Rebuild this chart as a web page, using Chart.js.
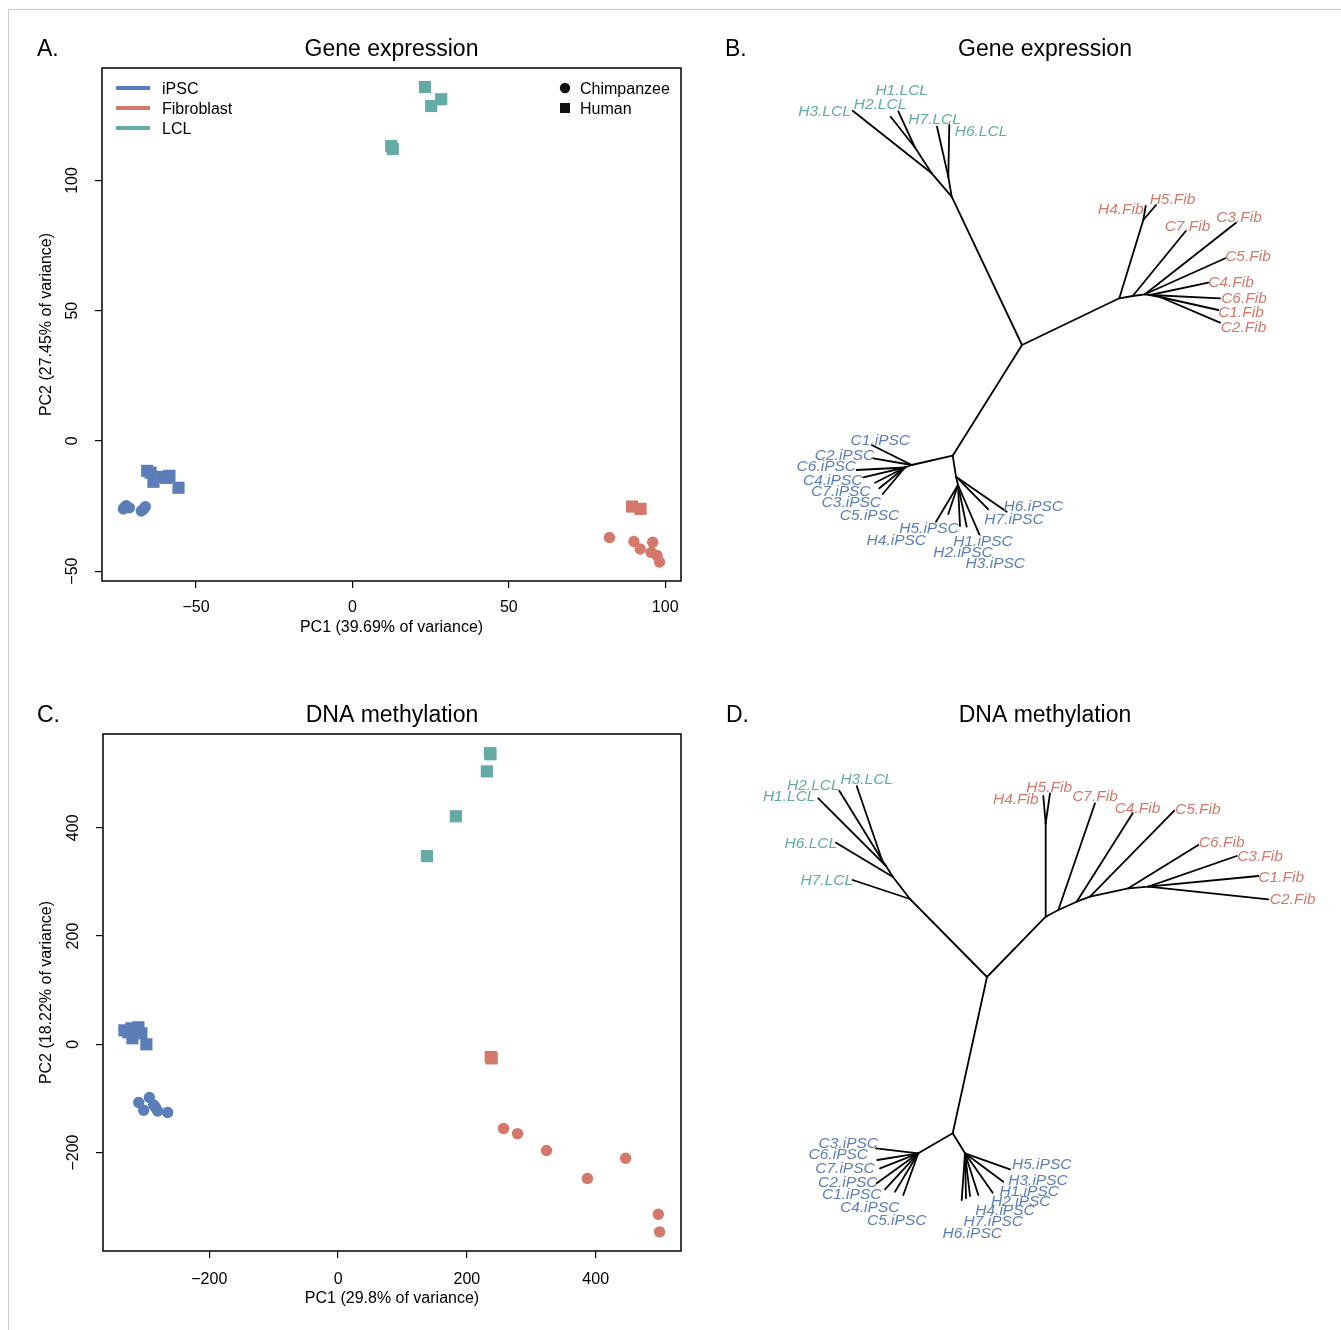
<!DOCTYPE html>
<html>
<head>
<meta charset="utf-8">
<script src="https://cdn.jsdelivr.net/npm/chart.js@4.4.1/dist/chart.umd.min.js"></script>
<style>
html,body{margin:0;padding:0;background:#fff;}
#wrap{position:relative;width:1341px;height:1330px;overflow:hidden;background:#fff;}
#frame{position:absolute;left:8px;top:9px;width:1340px;height:1330px;border-top:1.5px solid #cfcfcf;border-left:1.5px solid #cfcfcf;}
canvas{position:absolute;}
</style>
</head>
<body>
<div id="wrap">
<div id="frame"></div>
<canvas id="cA" width="700" height="665" style="left:0;top:0"></canvas>
<canvas id="cB" width="641" height="665" style="left:700px;top:0"></canvas>
<canvas id="cC" width="700" height="665" style="left:0;top:665px"></canvas>
<canvas id="cD" width="641" height="665" style="left:700px;top:665px"></canvas>
</div>
<script>
// ---------------- DATA ----------------
// Panel A: gene expression PCA  [PC1, PC2]
const geIPSCHuman = [[-65.6,-11.5],[-64.5,-12.2],[-63.6,-15.7],[-60.8,-13.8],[-59.5,-14.2],[-58.5,-13.4],[-55.6,-18.0]];
const geIPSCChimp = [[-73.2,-26.1],[-72.8,-25.5],[-72.3,-24.9],[-71.3,-25.7],[-67.5,-26.9],[-66.8,-26.2],[-66.2,-25.3]];
const geFibHuman  = [[89.4,-25.2],[92.1,-26.1]];
const geFibChimp  = [[82.2,-37.1],[90.0,-38.6],[92.0,-41.5],[96.0,-38.9],[95.5,-42.8],[97.4,-44.0],[98.2,-46.5]];
const geLCLHuman  = [[23.2,135.9],[28.4,131.2],[25.2,128.6],[12.4,113.2],[12.9,112.1]];
const geTicksX = [-50,0,50,100];
const geTicksY = [-50,0,50,100];

// Panel C: DNA methylation PCA [PC1, PC2]
const meIPSCHuman = [[-331.8,25.8],[-325.6,22.2],[-320.9,29.5],[-319.4,11.1],[-310.1,31.4],[-305.4,20.3],[-297.7,0]];
const meIPSCChimp = [[-309.6,-107.6],[-301.9,-121.8],[-293.0,-98.4],[-286.4,-112.1],[-283.7,-116.3],[-280.2,-123.1],[-264.7,-126.1]];
const meFibHuman  = [[237.0,-23.5],[238.5,-26.0]];
const meFibChimp  = [[256.9,-155.6],[278.6,-165.0],[323.6,-196.2],[446.5,-210.6],[387.1,-247.9],[497.2,-314.0],[499.2,-346.5]];
const meLCLHuman  = [[235.7,537.9],[236.7,535.9],[231.0,504.2],[182.9,421.3],[138.0,347.6]];
const meTicksX = [-200,0,200,400];
const meTicksY = [-200,0,200,400];

// Panel B: unrooted tree (gene expression), node layout coordinates
const treeBNodes = {
  R:[0,0],
  L0:[-70.3,148.3], L1:[-73.7,168.3], L2:[-90.3,171.7], L3:[-107,197.5],
  'H3.LCL':[-169.3,234.3], 'H2.LCL':[-131.3,228.3], 'H1.LCL':[-123.7,233.7], 'H7.LCL':[-85,218.3], 'H6.LCL':[-72.7,220],
  F0:[97.3,46.7], H45:[121.3,125], F1:[110.7,49], F2:[123,50.7], F3:[128,50], F4:[138,48],
  'H4.Fib':[123.7,139], 'H5.Fib':[134,140], 'C7.Fib':[164,114.3], 'C3.Fib':[214,122.3], 'C5.Fib':[203.3,86.7],
  'C4.Fib':[186.3,62.3], 'C6.Fib':[198,46.7], 'C1.Fib':[196.3,35], 'C2.Fib':[198,22.3],
  I0:[-69.3,-110.7], IC:[-110.3,-120], IC2:[-117,-122.5], IH:[-66,-131.7], IH2:[-64,-140],
  'C1.iPSC':[-150.3,-100], 'C2.iPSC':[-148.7,-113.3], 'C6.iPSC':[-165.3,-125], 'C4.iPSC':[-158.7,-132.3],
  'C7.iPSC':[-147,-137.7], 'C3.iPSC':[-142.7,-143.3], 'C5.iPSC':[-139.3,-149],
  'H6.iPSC':[-15.3,-166.7], 'H7.iPSC':[-33.7,-164.3], 'H3.iPSC':[-42.7,-189.3], 'H1.iPSC':[-55.3,-181.7],
  'H2.iPSC':[-62,-181], 'H5.iPSC':[-73.7,-169], 'H4.iPSC':[-86,-176.7]
};
const treeBEdges = [
  ['R','L0'],['L0','L1'],['L0','L2'],['L2','L3'],['L2','H3.LCL'],['L3','H2.LCL'],['L3','H1.LCL'],['L1','H7.LCL'],['L1','H6.LCL'],
  ['R','F0'],['F0','H45'],['H45','H4.Fib'],['H45','H5.Fib'],['F0','F1'],['F1','C7.Fib'],['F1','F2'],['F2','C3.Fib'],['F2','C5.Fib'],
  ['F2','F3'],['F3','C4.Fib'],['F3','C6.Fib'],['F3','F4'],['F4','C1.Fib'],['F4','C2.Fib'],
  ['R','I0'],['I0','IC'],['IC','C1.iPSC'],['IC','C2.iPSC'],['IC','IC2'],['IC2','C6.iPSC'],['IC2','C4.iPSC'],['IC2','C7.iPSC'],
  ['IC2','C3.iPSC'],['IC2','C5.iPSC'],
  ['I0','IH'],['IH','H6.iPSC'],['IH','H7.iPSC'],['IH','IH2'],['IH2','H3.iPSC'],['IH2','H1.iPSC'],['IH2','H2.iPSC'],
  ['IH2','H5.iPSC'],['IH2','H4.iPSC']
];

// Panel D: unrooted tree (DNA methylation)
const treeDNodes = {
  R:[0,0],
  L0:[-77,78], L1:[-94,100], L2:[-101,111], L3:[-105,117],
  'H7.LCL':[-134.3,97], 'H6.LCL':[-151,134.3], 'H1.LCL':[-168.7,178.7], 'H2.LCL':[-147.7,186.3], 'H3.LCL':[-130.3,191],
  F0:[58.7,60.3], FH:[58.7,153.7], F1:[71.3,67], F2:[89.7,75.3], F3:[103,80.3], F4:[141.3,88.7], F5:[161.3,90.3],
  'H4.Fib':[56.3,181], 'H5.Fib':[63,183.7], 'C7.Fib':[108,173.7], 'C4.Fib':[145.7,163.7], 'C5.Fib':[187.3,166.3],
  'C6.Fib':[211.3,132], 'C3.Fib':[249.7,121], 'C1.Fib':[271.3,101], 'C2.Fib':[281.3,77.7],
  I0:[-34.3,-156.3], IC:[-68.7,-176.3], IH:[-22,-176.3],
  'C3.iPSC':[-111,-171.3], 'C6.iPSC':[-109.7,-183], 'C7.iPSC':[-107,-191.3], 'C2.iPSC':[-110.3,-206.3],
  'C1.iPSC':[-102,-212.3], 'C4.iPSC':[-92,-214.7], 'C5.iPSC':[-83.7,-218],
  'H5.iPSC':[23,-192.3], 'H3.iPSC':[16.3,-204.7], 'H1.iPSC':[5.7,-215.7], 'H2.iPSC':[-8.7,-218],
  'H4.iPSC':[-17,-219], 'H7.iPSC':[-21,-221.3], 'H6.iPSC':[-25.3,-223]
};
const treeDEdges = [
  ['R','L0'],['L0','H7.LCL'],['L0','L1'],['L1','H6.LCL'],['L1','L2'],['L2','H1.LCL'],['L2','L3'],['L3','H2.LCL'],['L3','H3.LCL'],
  ['R','F0'],['F0','FH'],['FH','H4.Fib'],['FH','H5.Fib'],['F0','F1'],['F1','C7.Fib'],['F1','F2'],['F2','C4.Fib'],['F2','F3'],
  ['F3','C5.Fib'],['F3','F4'],['F4','C6.Fib'],['F4','F5'],['F5','C3.Fib'],['F5','C1.Fib'],['F5','C2.Fib'],
  ['R','I0'],['I0','IC'],['IC','C3.iPSC'],['IC','C6.iPSC'],['IC','C7.iPSC'],['IC','C2.iPSC'],['IC','C1.iPSC'],['IC','C4.iPSC'],['IC','C5.iPSC'],
  ['I0','IH'],['IH','H5.iPSC'],['IH','H3.iPSC'],['IH','H1.iPSC'],['IH','H2.iPSC'],['IH','H4.iPSC'],['IH','H7.iPSC'],['IH','H6.iPSC']
];

// ---------------- STYLE / LAYOUT ----------------
const FONT = '"Liberation Sans", Helvetica, Arial, sans-serif';
const COL = { iPSC:'#5B7EB8', Fib:'#D4786B', LCL:'#64ABA5' };
const TXT_DY = 1.5;   // small vertical nudge for canvas 'middle' baseline

// tip label offsets in screen pixels [dx, dy] (label centre relative to tip)
const treeBLabelOff = {
  'H3.LCL':[-28.2,-0.7],'H2.LCL':[-10.7,-13.7],'H1.LCL':[3.4,-22.3],'H7.LCL':[-2.4,-8.7],'H6.LCL':[31.7,5],
  'H4.Fib':[-24.9,2],'H5.Fib':[16.5,-7],'C7.Fib':[1.5,-5.7],'C3.Fib':[3,-6.7],'C5.Fib':[22.7,-3.3],'C4.Fib':[22.7,-1.7],
  'C6.Fib':[24,-1.3],'C1.Fib':[22.7,1],'C2.Fib':[23.5,3.3],
  'C1.iPSC':[8.6,-6],'C2.iPSC':[-28.8,-4.3],'C6.iPSC':[-30.4,-5],'C4.iPSC':[-30.6,2],'C7.iPSC':[-34.2,7.3],'C3.iPSC':[-28,12.7],'C5.iPSC':[-13.2,20],
  'H5.iPSC':[-19.3,13.3],'H4.iPSC':[-39.7,17.6],'H1.iPSC':[16.3,13.3],'H2.iPSC':[3,25],'H3.iPSC':[16,27.4],'H6.iPSC':[26.6,-6.7],'H7.iPSC':[25.7,8.4]
};
const treeDLabelOff = {
  'H1.LCL':[-29.1,-3.3],'H2.LCL':[-26,-6.4],'H3.LCL':[10,-8.3],'H6.LCL':[-25.2,-1],'H7.LCL':[-25.9,-0.7],
  'H4.Fib':[-27.5,2.3],'H5.Fib':[-0.8,-7.3],'C7.Fib':[0,-8.3],'C4.Fib':[4.8,-6.6],'C5.Fib':[23.5,-2.4],'C6.Fib':[23.4,-4],
  'C3.Fib':[23.3,-1],'C1.Fib':[22.9,0],'C2.Fib':[24.4,-1.6],
  'C3.iPSC':[-27.7,-6.6],'C6.iPSC':[-39,-6.7],'C7.iPSC':[-35,-1.6],'C2.iPSC':[-28.9,-2.3],'C1.iPSC':[-33.3,4],'C4.iPSC':[-25.3,14.3],'C5.iPSC':[-6.6,23.7],
  'H5.iPSC':[31.7,-6],'H3.iPSC':[34.7,-2.4],'H1.iPSC':[36.5,-2.7],'H2.iPSC':[42.5,5],'H4.iPSC':[35,13.3],'H7.iPSC':[27.3,21.7],'H6.iPSC':[10.5,31.7]
};

const fmt = v => v < 0 ? '\u2212' + Math.abs(v) : String(v);
const pts = arr => arr.map(p => ({x:p[0], y:p[1]}));
function rRange(vals){ const mn=Math.min(...vals), mx=Math.max(...vals), d=(mx-mn)*0.04; return [mn-d, mx+d]; }
function groupColor(name){ return name.indexOf('LCL')>=0 ? COL.LCL : (name.indexOf('Fib')>=0 ? COL.Fib : COL.iPSC); }

// plugin: R-style box, rotated y tick labels, titles, legend
const rFrame = {
  id:'rFrame',
  afterDraw(chart, args, o){
    const {ctx, chartArea:a, scales} = chart;
    ctx.save();
    ctx.strokeStyle = '#000'; ctx.lineWidth = 1.5;
    ctx.strokeRect(a.left, a.top, a.right-a.left, a.bottom-a.top);
    ctx.fillStyle = '#000';
    ctx.font = '16px ' + FONT; ctx.textAlign = 'center'; ctx.textBaseline = 'middle';
    o.yTicks.forEach(v => {
      const py = scales.y.getPixelForValue(v);
      ctx.save(); ctx.translate(a.left - 29, py); ctx.rotate(-Math.PI/2); ctx.fillText(fmt(v), 0, 0); ctx.restore();
    });
    ctx.font = '23px ' + FONT;
    ctx.textAlign = 'left'; ctx.fillText(o.letter, 37, a.top - 20 + TXT_DY);
    ctx.textAlign = 'center'; ctx.fillText(o.title, (a.left + a.right)/2, a.top - 20 + TXT_DY);
    if (o.legend) {
      ctx.font = '16px ' + FONT; ctx.textAlign = 'left'; ctx.textBaseline = 'middle';
      o.legend.lines.forEach((it,i) => {
        const y = a.top + 20 + i*20;
        ctx.strokeStyle = it.color; ctx.lineWidth = 4; ctx.lineCap = 'butt';
        ctx.beginPath(); ctx.moveTo(a.left+14, y); ctx.lineTo(a.left+48, y); ctx.stroke();
        ctx.fillStyle = '#000'; ctx.fillText(it.label, a.left+60, y + TXT_DY);
      });
      o.legend.shapes.forEach((it,i) => {
        const y = a.top + 20 + i*20, x = a.right - 116;
        ctx.fillStyle = '#111';
        if (it.shape === 'circle') { ctx.beginPath(); ctx.arc(x, y, 5.2, 0, 2*Math.PI); ctx.fill(); }
        else ctx.fillRect(x-5, y-5, 10, 10);
        ctx.fillStyle = '#000'; ctx.fillText(it.label, x+15, y + TXT_DY);
      });
    }
    ctx.restore();
  }
};

function scatterChart(id, o){
  const xr = rRange(o.sets.flatMap(s => s.data.map(p => p[0])));
  const yr = rRange(o.sets.flatMap(s => s.data.map(p => p[1])));
  const axisCommon = {
    type:'linear',
    grid:{display:true, drawOnChartArea:false, drawTicks:true, tickLength:7, color:'#000', lineWidth:1.2},
    border:{display:false}
  };
  return new Chart(document.getElementById(id), {
    type:'scatter',
    data:{datasets: o.sets.map(s => ({
      label:s.name, data:pts(s.data),
      pointStyle: s.shape === 'square' ? 'rect' : 'circle',
      pointRadius: s.shape === 'square' ? 8.6 : 5.7,
      pointHoverRadius: s.shape === 'square' ? 8.6 : 5.7,
      backgroundColor:s.color, borderColor:s.color, borderWidth:0
    }))},
    options:{
      responsive:false, animation:false, events:[],
      layout:{padding:{top:o.top, right:o.right, left:0, bottom:0}},
      plugins:{legend:{display:false}, tooltip:{enabled:false},
        rFrame:{yTicks:o.yTicks, letter:o.letter, title:o.title, legend:o.legend}},
      scales:{
        x:Object.assign({}, axisCommon, {
          min:xr[0], max:xr[1],
          afterBuildTicks:s => { s.ticks = o.xTicks.map(v => ({value:v})); },
          afterFit:s => { s.height = o.xAxisH; },
          ticks:{color:'#000', font:{size:16, family:FONT}, padding:o.xTickPad, maxRotation:0, autoSkip:false, callback:v => fmt(v)},
          title:{display:true, text:o.xTitle, color:'#000', font:{size:16, family:FONT}, padding:{bottom:o.xTitlePad}}
        }),
        y:Object.assign({}, axisCommon, {
          min:yr[0], max:yr[1],
          afterBuildTicks:s => { s.ticks = o.yTicks.map(v => ({value:v})); },
          afterFit:s => { s.width = o.yAxisW; },
          ticks:{display:false},
          title:{display:true, text:o.yTitle, color:'#000', font:{size:16, family:FONT}, padding:{top:36.5}}
        })
      }
    },
    plugins:[rFrame]
  });
}

const treeLabels = {
  id:'treeLabels',
  afterDatasetsDraw(chart, args, o){
    const {ctx, scales} = chart;
    ctx.save();
    ctx.font = 'italic 15.5px ' + FONT; ctx.textAlign = 'center'; ctx.textBaseline = 'middle';
    Object.keys(o.offsets).forEach(name => {
      const n = o.nodes[name], off = o.offsets[name];
      ctx.fillStyle = groupColor(name);
      ctx.fillText(name, scales.x.getPixelForValue(n[0]) + off[0], scales.y.getPixelForValue(n[1]) + off[1] + TXT_DY);
    });
    ctx.fillStyle = '#000'; ctx.font = '23px ' + FONT;
    ctx.textAlign = 'left'; ctx.fillText(o.letter, o.letterX, o.titleY + TXT_DY);
    ctx.textAlign = 'center'; ctx.fillText(o.title, o.titleX, o.titleY + TXT_DY);
    ctx.restore();
  }
};

function treeChart(id, nodes, edges, offsets, view, t){
  const datasets = edges.map(([a,b]) => ({
    data:[{x:nodes[a][0], y:nodes[a][1]}, {x:nodes[b][0], y:nodes[b][1]}],
    showLine:true, borderColor:'#000', borderWidth:1.8, borderCapStyle:'round',
    pointRadius:0, pointHoverRadius:0, fill:false, tension:0
  }));
  return new Chart(document.getElementById(id), {
    type:'scatter',
    data:{datasets},
    options:{
      responsive:false, animation:false, events:[],
      layout:{padding:0},
      plugins:{legend:{display:false}, tooltip:{enabled:false},
        treeLabels:Object.assign({nodes, offsets}, t)},
      scales:{
        x:{type:'linear', display:false, min:view.x[0], max:view.x[1]},
        y:{type:'linear', display:false, min:view.y[0], max:view.y[1]}
      }
    },
    plugins:[treeLabels]
  });
}

// ---------------- BUILD ----------------
scatterChart('cA', {
  sets:[
    {name:'iPSC human', data:geIPSCHuman, shape:'square', color:COL.iPSC},
    {name:'iPSC chimpanzee', data:geIPSCChimp, shape:'circle', color:COL.iPSC},
    {name:'Fibroblast human', data:geFibHuman, shape:'square', color:COL.Fib},
    {name:'Fibroblast chimpanzee', data:geFibChimp, shape:'circle', color:COL.Fib},
    {name:'LCL human', data:geLCLHuman, shape:'square', color:COL.LCL}
  ],
  xTicks:geTicksX, yTicks:geTicksY,
  top:68, right:19, yAxisW:102, xAxisH:84, xTickPad:9.5, xTitlePad:27.4,
  xTitle:'PC1 (39.69% of variance)', yTitle:'PC2 (27.45% of variance)',
  letter:'A.', title:'Gene expression',
  legend:{
    lines:[{label:'iPSC', color:COL.iPSC},{label:'Fibroblast', color:COL.Fib},{label:'LCL', color:COL.LCL}],
    shapes:[{label:'Chimpanzee', shape:'circle'},{label:'Human', shape:'square'}]
  }
});

scatterChart('cC', {
  sets:[
    {name:'iPSC human', data:meIPSCHuman, shape:'square', color:COL.iPSC},
    {name:'iPSC chimpanzee', data:meIPSCChimp, shape:'circle', color:COL.iPSC},
    {name:'Fibroblast human', data:meFibHuman, shape:'square', color:COL.Fib},
    {name:'Fibroblast chimpanzee', data:meFibChimp, shape:'circle', color:COL.Fib},
    {name:'LCL human', data:meLCLHuman, shape:'square', color:COL.LCL}
  ],
  xTicks:meTicksX, yTicks:meTicksY,
  top:69, right:19, yAxisW:103, xAxisH:79, xTickPad:11.5, xTitlePad:21.4,
  xTitle:'PC1 (29.8% of variance)', yTitle:'PC2 (18.22% of variance)',
  letter:'C.', title:'DNA methylation', legend:null
});

treeChart('cB', treeBNodes, treeBEdges, treeBLabelOff,
  {x:[-322,319], y:[-320,345]},
  {letter:'B.', letterX:25, title:'Gene expression', titleX:345, titleY:48});

treeChart('cD', treeDNodes, treeDEdges, treeDLabelOff,
  {x:[-287,354], y:[-353,312]},
  {letter:'D.', letterX:26, title:'DNA methylation', titleX:345, titleY:49});
</script>
</body>
</html>
